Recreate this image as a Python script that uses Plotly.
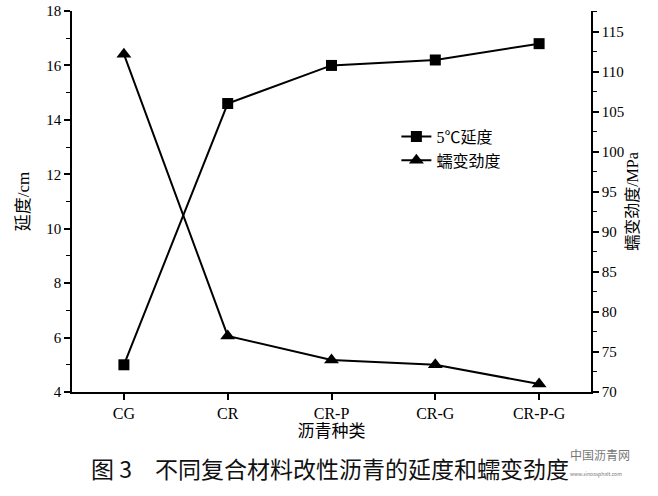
import plotly.graph_objects as go

categories = ["CG", "CR", "CR-P", "CR-G", "CR-P-G"]
ductility = [5.0, 14.6, 16.0, 16.2, 16.8]          # 5°C ductility, cm
creep_stiffness = [112.2, 77.0, 74.0, 73.4, 71.0]  # creep stiffness, MPa

left_ticks = [4, 6, 8, 10, 12, 14, 16, 18]
right_ticks = [70, 75, 80, 85, 90, 95, 100, 105, 110, 115]

num_font = "Liberation Serif, Times New Roman, serif"
cjk_font = "Liberation Serif, Noto Sans CJK SC, serif"

fig = go.Figure()

fig.add_trace(go.Scatter(
    x=categories,
    y=ductility,
    mode="lines+markers",
    name="5℃延度",
    line=dict(color="black", width=2),
    marker=dict(symbol="square", size=11, color="black"),
))

fig.add_trace(go.Scatter(
    x=categories,
    y=creep_stiffness,
    mode="lines+markers",
    name="蠕变劲度",
    yaxis="y2",
    line=dict(color="black", width=2),
    marker=dict(symbol="triangle-up", size=13, color="black"),
))

fig.update_layout(
    width=658,
    height=496,
    margin=dict(l=72, r=67, t=11, b=104),
    paper_bgcolor="white",
    plot_bgcolor="white",
    font=dict(family=num_font, size=15, color="black"),
    xaxis=dict(
        type="category",
        range=[-0.5, 4.5],
        automargin=False,
        showline=True, linecolor="black", linewidth=1.5,
        ticks="outside", ticklen=6, tickcolor="black", tickwidth=1.5,
        showgrid=False, zeroline=False,
        title=dict(text="沥青种类", font=dict(family=cjk_font, size=17), standoff=0),
        tickfont=dict(family=num_font, size=16),
    ),
    xaxis2=dict(
        overlaying="x",
        side="top",
        anchor="y",
        automargin=False,
        range=[-0.5, 4.5],
        tickvals=[0, 0.5, 1, 1.5, 2, 2.5, 3, 3.5, 4],
        showticklabels=False,
        showline=True, linecolor="black", linewidth=1.5,
        ticks="inside", ticklen=6, tickcolor="black", tickwidth=1.5,
        showgrid=False, zeroline=False,
    ),
    yaxis=dict(
        range=[4, 18],
        tickvals=left_ticks,
        automargin=False,
        showline=True, linecolor="black", linewidth=1.5,
        ticks="outside", ticklen=6, tickcolor="black", tickwidth=1.5,
        minor=dict(dtick=1, ticks="outside", ticklen=4, tickcolor="black", tickwidth=1.2),
        showgrid=False, zeroline=False,
        tickfont=dict(family=num_font, size=15),
        title=dict(text="延度/cm", font=dict(family=cjk_font, size=17), standoff=12),
    ),
    yaxis2=dict(
        overlaying="y",
        side="right",
        range=[70, 117.6],
        tickvals=right_ticks,
        automargin=False,
        showline=True, linecolor="black", linewidth=1.5,
        ticks="outside", ticklen=6, tickcolor="black", tickwidth=1.5,
        minor=dict(dtick=2.5, ticks="outside", ticklen=4, tickcolor="black", tickwidth=1.2),
        showgrid=False, zeroline=False,
        tickfont=dict(family=num_font, size=15),
        title=dict(text="蠕变劲度/MPa", font=dict(family=cjk_font, size=16), standoff=2),
    ),
    legend=dict(
        x=0.625, y=0.715, xanchor="left", yanchor="top",
        bgcolor="rgba(0,0,0,0)",
        font=dict(family=cjk_font, size=16),
        itemwidth=30,
        tracegroupgap=0,
    ),
    annotations=[
        dict(
            text="图 3　不同复合材料改性沥青的延度和蠕变劲度",
            xref="paper", yref="paper", x=0.497, y=-0.2,
            xanchor="center", yanchor="middle", showarrow=False,
            font=dict(family="Noto Sans CJK SC", size=23, color="#111111"),
        ),
        dict(
            text="中国沥青网<br><span style='font-size:5px'>www.sinoasphalt.com</span>",
            xref="paper", yref="paper", x=0.955, y=-0.185,
            xanchor="left", yanchor="middle", showarrow=False, align="left",
            font=dict(family="Noto Sans CJK SC", size=12, color="#777777"),
        ),
    ],
)

# drop the page's default body margin so the figure fills the window
fig.write_html(
    "out.html",
    config={"displayModeBar": False},
    post_script="document.body.style.margin='0';",
)
